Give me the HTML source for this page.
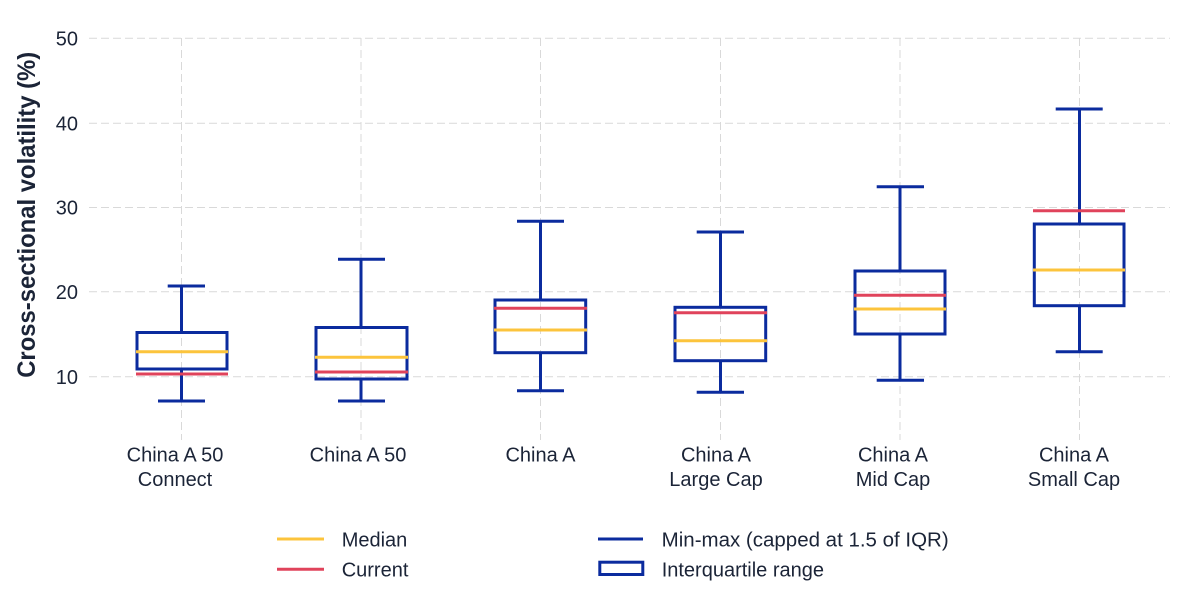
<!DOCTYPE html>
<html>
<head>
<meta charset="utf-8">
<style>
  html,body{margin:0;padding:0;background:#fff;}
  svg{display:block;}
  text{font-family:"Liberation Sans",Arial,sans-serif;fill:#1b2437;}
</style>
</head>
<body>
<svg width="1200" height="600" viewBox="0 0 1200 600" xmlns="http://www.w3.org/2000/svg">
  <rect width="1200" height="600" fill="#fff"/>
  <!-- horizontal grid -->
  <g stroke="#d9d9d9" stroke-width="1" stroke-dasharray="8,4" fill="none">
    <line x1="89" y1="38.3" x2="1170" y2="38.3"/>
    <line x1="89" y1="123.3" x2="1170" y2="123.3"/>
    <line x1="89" y1="207.5" x2="1170" y2="207.5"/>
    <line x1="89" y1="291.8" x2="1170" y2="291.8"/>
    <line x1="89" y1="376.7" x2="1170" y2="376.7"/>
    <!-- vertical grid -->
    <line x1="181.5" y1="38" x2="181.5" y2="440"/>
    <line x1="361" y1="38" x2="361" y2="440"/>
    <line x1="540.5" y1="38" x2="540.5" y2="440"/>
    <line x1="720.5" y1="38" x2="720.5" y2="440"/>
    <line x1="900" y1="38" x2="900" y2="440"/>
    <line x1="1079.5" y1="38" x2="1079.5" y2="440"/>
  </g>

  <!-- y tick labels -->
  <g font-size="20" text-anchor="end">
    <text x="78" y="45.5">50</text>
    <text x="78" y="130.5">40</text>
    <text x="78" y="214.7">30</text>
    <text x="78" y="299">20</text>
    <text x="78" y="383.9">10</text>
  </g>

  <!-- y axis title -->
  <text x="35" y="214.8" font-size="25" font-weight="bold" text-anchor="middle" fill="#0f1a33" textLength="326" lengthAdjust="spacingAndGlyphs" transform="rotate(-90 35 214.8)">Cross-sectional volatility (%)</text>

  <!-- boxes -->
  <g stroke="#0b2b9e" stroke-width="3" fill="none">
    <!-- 1 -->
    <line x1="181.5" y1="286" x2="181.5" y2="332.5"/>
    <line x1="181.5" y1="369" x2="181.5" y2="401"/>
    <line x1="167.7" y1="286" x2="205" y2="286"/>
    <line x1="158" y1="401" x2="205" y2="401"/>
    <rect x="137" y="332.5" width="90" height="36.5"/>
    <!-- 2 -->
    <line x1="361" y1="259.3" x2="361" y2="327.5"/>
    <line x1="361" y1="379" x2="361" y2="401"/>
    <line x1="338" y1="259.3" x2="385" y2="259.3"/>
    <line x1="338" y1="401" x2="385" y2="401"/>
    <rect x="316" y="327.5" width="91" height="51.5"/>
    <!-- 3 -->
    <line x1="540.5" y1="221.3" x2="540.5" y2="300"/>
    <line x1="540.5" y1="352.7" x2="540.5" y2="390.7"/>
    <line x1="517" y1="221.3" x2="564" y2="221.3"/>
    <line x1="517" y1="390.7" x2="564" y2="390.7"/>
    <rect x="495" y="300" width="90.7" height="52.7"/>
    <!-- 4 -->
    <line x1="720.5" y1="232" x2="720.5" y2="307.3"/>
    <line x1="720.5" y1="360.7" x2="720.5" y2="392.3"/>
    <line x1="696.7" y1="232" x2="744" y2="232"/>
    <line x1="696.7" y1="392.3" x2="744" y2="392.3"/>
    <rect x="675" y="307.3" width="90.7" height="53.4"/>
    <!-- 5 -->
    <line x1="900" y1="186.7" x2="900" y2="271"/>
    <line x1="900" y1="334" x2="900" y2="380.3"/>
    <line x1="876.7" y1="186.7" x2="924" y2="186.7"/>
    <line x1="876.7" y1="380.3" x2="924" y2="380.3"/>
    <rect x="855" y="271" width="90" height="63"/>
    <!-- 6 -->
    <line x1="1079.5" y1="109" x2="1079.5" y2="224"/>
    <line x1="1079.5" y1="305.7" x2="1079.5" y2="351.7"/>
    <line x1="1055.7" y1="109" x2="1102.7" y2="109"/>
    <line x1="1055.7" y1="351.7" x2="1102.7" y2="351.7"/>
    <rect x="1034.3" y="224" width="89.7" height="81.7"/>
  </g>

  <!-- median -->
  <g stroke="#fcc43c" stroke-width="3">
    <line x1="136" y1="351.7" x2="228" y2="351.7"/>
    <line x1="315" y1="357.3" x2="408" y2="357.3"/>
    <line x1="494" y1="330" x2="587" y2="330"/>
    <line x1="674" y1="340.7" x2="767" y2="340.7"/>
    <line x1="854" y1="309" x2="946" y2="309"/>
    <line x1="1033" y1="270" x2="1125" y2="270"/>
  </g>
  <!-- current -->
  <g stroke="#e0435b" stroke-width="3">
    <line x1="136" y1="374" x2="228" y2="374"/>
    <line x1="315" y1="372" x2="408" y2="372"/>
    <line x1="494" y1="308.3" x2="587" y2="308.3"/>
    <line x1="674" y1="312.7" x2="767" y2="312.7"/>
    <line x1="854" y1="295.3" x2="946" y2="295.3"/>
    <line x1="1033" y1="210.7" x2="1125" y2="210.7"/>
  </g>

  <!-- x labels -->
  <g font-size="20" text-anchor="middle">
    <text x="175" y="461.7">China A 50</text>
    <text x="175" y="486">Connect</text>
    <text x="358" y="461.7">China A 50</text>
    <text x="540.5" y="461.7">China A</text>
    <text x="716" y="461.7">China A</text>
    <text x="716" y="486">Large Cap</text>
    <text x="893" y="461.7">China A</text>
    <text x="893" y="486">Mid Cap</text>
    <text x="1074" y="461.7">China A</text>
    <text x="1074" y="486">Small Cap</text>
  </g>

  <!-- legend -->
  <line x1="277" y1="539" x2="324" y2="539" stroke="#fcc43c" stroke-width="3"/>
  <line x1="277" y1="569.3" x2="324" y2="569.3" stroke="#e0435b" stroke-width="3"/>
  <line x1="598" y1="539" x2="643" y2="539" stroke="#0b2b9e" stroke-width="3"/>
  <rect x="599.8" y="562.2" width="43" height="12.3" fill="none" stroke="#0b2b9e" stroke-width="3"/>
  <g font-size="20">
    <text x="341.7" y="546.7">Median</text>
    <text x="341.7" y="576.7">Current</text>
    <text x="661.7" y="546.7" textLength="287" lengthAdjust="spacingAndGlyphs">Min-max (capped at 1.5 of IQR)</text>
    <text x="661.7" y="576.7">Interquartile range</text>
  </g>
</svg>
</body>
</html>
